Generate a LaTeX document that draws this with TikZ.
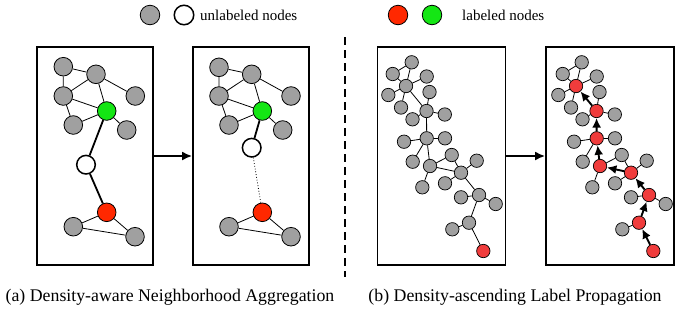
\documentclass[tikz,border=0pt]{standalone}
\usepackage{fontspec}
\setmainfont{Liberation Serif}
\usetikzlibrary{arrows.meta}
\definecolor{ngray}{RGB}{160,160,160}
\definecolor{nred}{RGB}{255,40,0}
\definecolor{ngreen}{RGB}{20,230,20}
\definecolor{lred}{RGB}{240,60,60}
\begin{document}
\begin{tikzpicture}[x=1pt,y=-1pt,
  big/.style={circle,draw=black,line width=0.8pt,minimum size=18.6pt,inner sep=0pt},
  gbig/.style={big,fill=ngray},
  wbig/.style={big,fill=white,line width=1.5pt},
  small/.style={circle,draw=black,line width=0.7pt,minimum size=13.4pt,inner sep=0pt},
  frame/.style={draw=black,line width=1.8pt,minimum height=218pt,inner sep=0pt},
  edge/.style={line width=0.8pt},
  bold/.style={line width=1.8pt},
  bigarrow/.style={line width=1.8pt,-{Latex[length=10pt,width=9pt]}},
  proparrow/.style={line width=1.9pt,-{Latex[length=9.5pt,width=9pt]}},
  legtext/.style={font=\rmfamily\fontsize{15}{17}\selectfont,anchor=west,inner sep=0pt},
  captext/.style={font=\rmfamily\fontsize{17.8}{20}\selectfont,inner sep=0pt}
]
\useasboundingbox (0,0) rectangle (676,314);

% legend
\node[gbig,minimum size=19.5pt] (lg) at (150,15) {};
\node[wbig,minimum size=19.5pt] (lw) at (184,15) {};
\node[legtext] (lu) at (200,15) {unlabeled nodes};
\node[big,fill=nred,minimum size=19.5pt] (lr) at (398,15) {};
\node[big,fill=ngreen,minimum size=19.5pt] (lgr) at (432,15) {};
\node[legtext] (ll) at (462,15) {labeled nodes};

% frames
\node[frame,minimum width=116pt] (box1) at (95,156) {};
\node[frame,minimum width=116pt] (box2) at (251,156) {};
\node[frame,minimum width=128pt] (box3) at (441.5,156) {};
\node[frame,minimum width=128pt] (box4) at (610,156) {};
\draw[bigarrow] (box1.east) -- (box2.west);
\draw[bigarrow] (box3.east) -- (box4.west);

% divider
\coordinate (dtop) at (345,37);
\coordinate (dbot) at (345,277);
\draw[line width=1.8pt,dash pattern=on 8pt off 5pt] (dtop) -- (dbot);

% panel 1
\node[gbig] (aA) at (63.3,66.7) {};
\node[gbig] (aB) at (96,74.3) {};
\node[gbig] (aC) at (63.3,96) {};
\node[gbig] (aD) at (135.3,96) {};
\node[big,fill=ngreen] (aG) at (106.7,111) {};
\node[gbig] (aE) at (73.3,125) {};
\node[gbig] (aF) at (126.7,130) {};
\node[wbig] (aW) at (86,164.7) {};
\node[big,fill=nred] (aR) at (106.7,212.3) {};
\node[gbig] (aH) at (73.3,226.7) {};
\node[gbig] (aI) at (135,236.7) {};
\draw[edge] (aA)--(aB) (aA)--(aC) (aC)--(aB) (aB)--(aG) (aB)--(aD) (aC)--(aG)
  (aC)--(aE) (aE)--(aG) (aG)--(aF) (aR)--(aH) (aR)--(aI) (aH)--(aI);
\draw[bold] (aG)--(aW) (aW)--(aR);

% panel 2
\node[gbig] (bA) at (219,67.3) {};
\node[gbig] (bB) at (251.7,74.3) {};
\node[gbig] (bC) at (219,96) {};
\node[gbig] (bD) at (291,96) {};
\node[big,fill=ngreen] (bG) at (262.3,111) {};
\node[gbig] (bE) at (229,125) {};
\node[gbig] (bF) at (282.7,130) {};
\node[wbig] (bW) at (251.7,147.7) {};
\node[big,fill=nred] (bR) at (262.3,212.3) {};
\node[gbig] (bH) at (229,226.7) {};
\node[gbig] (bI) at (291,236.7) {};
\draw[edge] (bA)--(bB) (bA)--(bC) (bC)--(bB) (bB)--(bG) (bB)--(bD) (bC)--(bG)
  (bC)--(bE) (bE)--(bG) (bG)--(bF) (bR)--(bH) (bR)--(bI) (bH)--(bI);
\draw[bold] (bG)--(bW);
\draw[line width=0.8pt,dotted] (bW)--(bR);

% panels 3 and 4
\foreach \n/\x/\y/\ca/\cb in {
  1/411.7/62.3/ngray/ngray, 2/392.7/74/ngray/ngray, 3/426.7/76.5/ngray/ngray,
  4/406/86/ngray/lred, 5/388.3/95/ngray/ngray, 6/429.5/92/ngray/ngray,
  7/401/107.5/ngray/ngray, 8/426.5/111/ngray/lred, 9/444.8/114.5/ngray/ngray,
  10/412.5/119.3/ngray/ngray, 11/426.7/138.3/ngray/lred, 12/404/141.7/ngray/ngray,
  13/445/138.3/ngray/ngray, 14/412.7/161.7/ngray/ngray, 15/430/166/ngray/lred,
  16/451.7/155/ngray/ngray, 17/476.7/160.7/ngray/ngray, 18/461/172.7/ngray/lred,
  19/445/183.3/ngray/ngray, 20/422.3/187.3/ngray/ngray, 21/479/195/ngray/lred,
  22/461/197.3/ngray/ngray, 23/495.7/204/ngray/ngray, 24/469/222.7/ngray/lred,
  25/452.3/229.3/ngray/ngray, 26/483.3/251/lred/lred}{
  \node[small,fill=\ca] (c\n) at (\x,\y) {};
  \node[small,fill=\cb] (d\n) at (\x+170,\y) {};
}
\foreach \p in {c,d}{
  \foreach \u/\v in {1/2,1/4,2/4,4/3,4/5,4/7,8/6,8/9,8/10,11/12,11/13,11/14,
    15/16,15/20,16/18,18/17,18/19,21/22,21/23,24/25}{
    \draw[edge] (\p\u) -- (\p\v);
  }
}
\foreach \u/\v in {4/8,8/11,11/15,15/18,18/21,21/24,24/26}{
  \draw[edge] (c\u) -- (c\v);
  \draw[proparrow] (d\v) -- (d\u);
}

% captions
\node[captext] (capa) at (170,297) {(a) Density-aware Neighborhood Aggregation};
\node[captext] (capb) at (515,297) {(b) Density-ascending Label Propagation};
\end{tikzpicture}
\end{document}
